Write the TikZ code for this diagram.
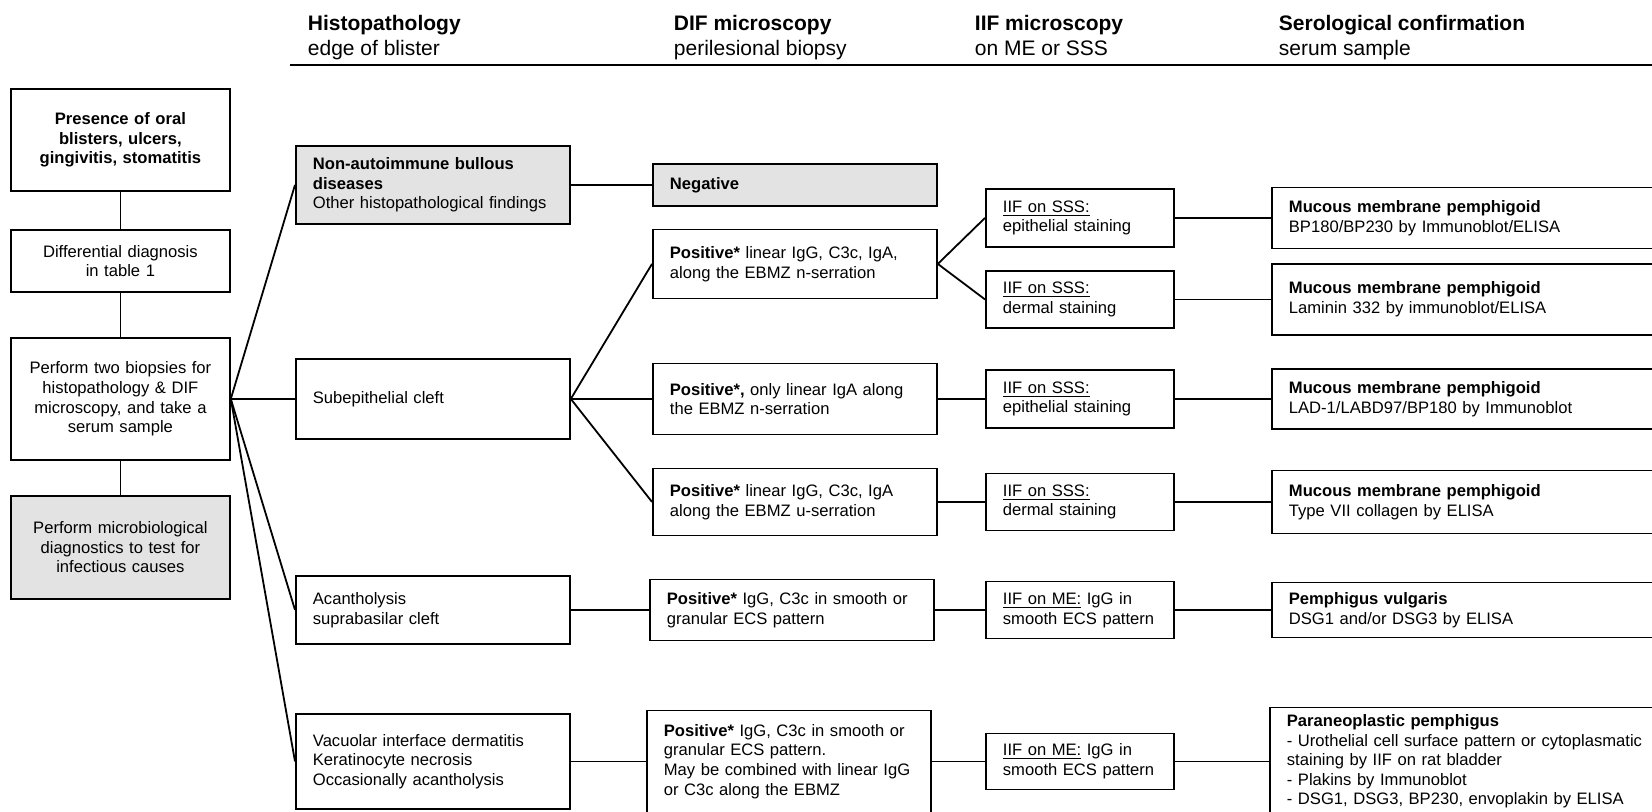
\documentclass[tikz,border=0pt]{standalone}
\usepackage{fontspec}
\setmainfont{Liberation Sans}
\usepackage{tikz}
\usetikzlibrary{positioning}
\tikzset{
  font=\fontsize{8.3}{9.8}\selectfont,
  base/.style={draw, rectangle, inner xsep=8.5pt, inner ysep=0pt},
  start/.style={base, text width=92.5pt, align=center},
  histo/.style={base, text width=120pt, align=left},
  dif/.style={base, text width=125pt, align=left},
  iif/.style={base, text width=77pt, align=left},
  sero/.style={base, text width=183pt, align=left},
  grey/.style={fill=boxGray},
  header/.style={anchor=north west, inner sep=0pt, align=left, font=\fontsize{10.5}{12.5}\selectfont}
}
\usepackage{xcolor}
\definecolor{boxGray}{HTML}{E3E3E3}

\begin{document}
\begin{tikzpicture}[x=0.5pt, y=-0.5pt, line width=0.9pt]
    \useasboundingbox (0,0) rectangle (1652,811);
    \clip (0,0) rectangle (1652,811);

    \node[header] (histhead) at (307,14) {\textbf{Histopathology}\\edge of blister};
    \node[header] (difhead) at (673,14) {\textbf{DIF microscopy}\\perilesional biopsy};
    \node[header] (iifhead) at (974,14) {\textbf{IIF microscopy}\\on ME or SSS};
    \node[header] (serohead) at (1278,14) {\textbf{Serological confirmation}\\serum sample};
    \draw (290,65) -- (1652,65);

    \node[start, minimum height=51pt, anchor=north west] (presence) at (10,88) {\bfseries Presence of oral\\blisters, ulcers,\\gingivitis, stomatitis};
    \node[start, minimum height=31pt, below=18.6pt of presence] (diffdiag) {Differential diagnosis\\in table 1};
    \node[start, minimum height=61pt, below=22.1pt of diffdiag] (biopsies) {Perform two biopsies for\\histopathology \& DIF\\microscopy, and take a\\serum sample};
    \node[start, grey, minimum height=51.5pt, below=17.1pt of biopsies] (microbio) {Perform microbiological\\diagnostics to test for\\infectious causes};

    \node[histo, minimum height=40pt, right=32.1pt of biopsies] (subepi) {Subepithelial cleft};
    \node[histo, grey, minimum height=39pt, above=66.6pt of subepi] (nonauto) {\textbf{Non-autoimmune bullous}\\\textbf{diseases}\\Other histopathological findings};
    \node[histo, minimum height=34pt, below=67.6pt of subepi] (acanth) {Acantholysis\\suprabasilar cleft};
    \node[histo, minimum height=47.5pt, below=34.1pt of acanth] (vacuolar) {Vacuolar interface dermatitis\\Keratinocyte necrosis\\Occasionally acantholysis};

    \node[dif, grey, minimum height=21pt, right=40.6pt of nonauto] (negative) {\textbf{Negative}};
    \node[dif, minimum height=35.5pt, right=40.6pt of subepi] (pos2) {\textbf{Positive*,} only linear IgA along\\the EBMZ n-serration};
    \node[dif, minimum height=34.5pt, above=31.6pt of pos2] (pos1) {\textbf{Positive*} linear IgG, C3c, IgA,\\along the EBMZ n-serration};
    \node[dif, minimum height=33.5pt, below=16.1pt of pos2] (pos3) {\textbf{Positive*} linear IgG, C3c, IgA\\along the EBMZ u-serration};
    \node[dif, minimum height=30.5pt, right=39.1pt of acanth] (pos4) {\textbf{Positive*} IgG, C3c in smooth or\\granular ECS pattern};
    \node[dif, minimum height=51pt, right=37.6pt of vacuolar] (pos5) {\textbf{Positive*} IgG, C3c in smooth or\\granular ECS pattern.\\May be combined with linear IgG\\or C3c along the EBMZ};

    \node[iif, minimum height=29pt, right=23.6pt of pos2] (iif3) {\underline{IIF on SSS:}\\epithelial staining};
    \node[iif, minimum height=28.5pt, above=20.1pt of iif3] (iif2) {\underline{IIF on SSS:}\\dermal staining};
    \node[iif, minimum height=29pt, above=11.1pt of iif2] (iif1) {\underline{IIF on SSS:}\\epithelial staining};
    \node[iif, minimum height=28.5pt, right=23.6pt of pos3] (iif4) {\underline{IIF on SSS:}\\dermal staining};
    \node[iif, minimum height=28.5pt, right=25.1pt of pos4] (iif5) {\underline{IIF on ME:} IgG in\\smooth ECS pattern};
    \node[iif, minimum height=28pt, right=26.6pt of pos5] (iif6) {\underline{IIF on ME:} IgG in\\smooth ECS pattern};

    \node[sero, minimum height=30.5pt, right=48.1pt of iif1] (sero1) {\textbf{Mucous membrane pemphigoid}\\BP180/BP230 by Immunoblot/ELISA};
    \node[sero, minimum height=35.5pt, right=48.1pt of iif2] (sero2) {\textbf{Mucous membrane pemphigoid}\\Laminin 332 by immunoblot/ELISA};
    \node[sero, minimum height=30pt, right=48.1pt of iif3] (sero3) {\textbf{Mucous membrane pemphigoid}\\LAD-1/LABD97/BP180 by Immunoblot};
    \node[sero, minimum height=31.5pt, right=48.1pt of iif4] (sero4) {\textbf{Mucous membrane pemphigoid}\\Type VII collagen by ELISA};
    \node[sero, minimum height=27.5pt, right=48.1pt of iif5] (sero5) {\textbf{Pemphigus vulgaris}\\DSG1 and/or DSG3 by ELISA};
    \node[sero, minimum height=54pt, right=47.1pt of iif6] (sero6) {\textbf{Paraneoplastic pemphigus}\\- Urothelial cell surface pattern or cytoplasmatic\\staining by IIF on rat bladder\\- Plakins by Immunoblot\\- DSG1, DSG3, BP230, envoplakin by ELISA};

    \draw (presence) -- (diffdiag);
    \draw (diffdiag) -- (biopsies);
    \draw (biopsies) -- (microbio);
    \draw (biopsies.east) -- (nonauto.west);
    \draw (biopsies.east) -- (subepi.west);
    \draw (biopsies.east) -- (acanth.west);
    \draw (biopsies.east) -- (vacuolar.west);
    \draw (nonauto) -- (negative);
    \draw (subepi.east) -- (pos1.west);
    \draw (subepi.east) -- (pos2.west);
    \draw (subepi.east) -- (pos3.west);
    \draw (acanth) -- (pos4);
    \draw (vacuolar) -- (pos5);
    \draw (pos1.east) -- (iif1.west);
    \draw (pos1.east) -- (iif2.west);
    \draw (pos2) -- (iif3);
    \draw (pos3) -- (iif4);
    \draw (pos4) -- (iif5);
    \draw (pos5) -- (iif6);
    \draw (iif1) -- (sero1);
    \draw (iif2) -- (sero2);
    \draw (iif3) -- (sero3);
    \draw (iif4) -- (sero4);
    \draw (iif5) -- (sero5);
    \draw (iif6.east) -- (iif6.east -| sero6.west);
  \end{tikzpicture}
\end{document}
